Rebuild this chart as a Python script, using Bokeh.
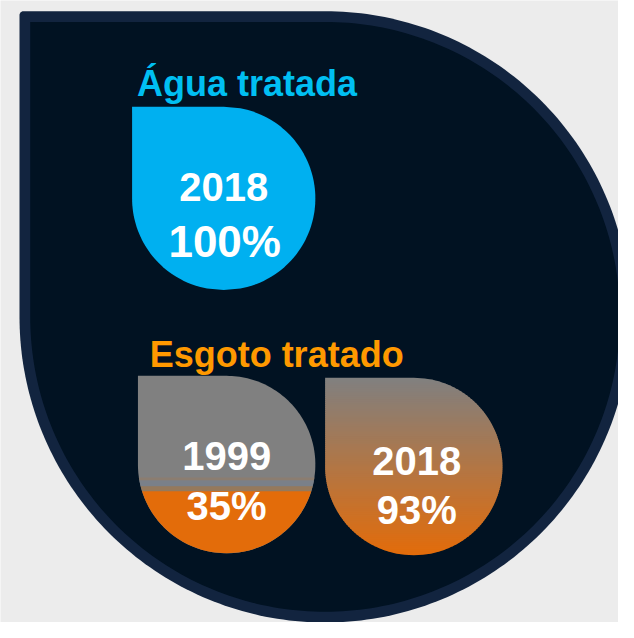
import math
from bokeh.plotting import figure
from bokeh.models import Range1d, ColumnDataSource
from bokeh.core.properties import value
from bokeh.embed import file_html
from bokeh.resources import INLINE

# ---------------- data ----------------
categories = ["Água tratada", "Esgoto tratado"]
agua_years = ["2018"]
agua_pct = [100]
esgoto_years = ["1999", "2018"]
esgoto_pct = [35, 93]

# ---------------- style ----------------
BG = "#ececec"
BORDER = "#12243f"
INNER = "#011222"
CYAN_TITLE = "#00bff2"
CYAN = "#00b0f0"
ORANGE_TITLE = "#ff9900"
GRAY = (128, 128, 128)
ORANGE = (227, 108, 10)
FONT = "Liberation Sans"

W, H = 618, 622
p = figure(width=W, height=H, x_range=Range1d(0, 634), y_range=Range1d(638, 0),
           output_backend="svg", toolbar_location=None,
           x_axis_type=None, y_axis_type=None, min_border=0,
           background_fill_color=BG, border_fill_color=BG, outline_line_color=None)
p.min_border_left = p.min_border_right = p.min_border_top = p.min_border_bottom = 0


def drop_outline(x0, y0, s, n=160, corner=0.0):
    r = s / 2.0
    cx, cy = x0 + r, y0 + r
    xs, ys = [], []
    if corner > 0:
        # small rounded top-left corner
        for i in range(9):
            t = math.radians(180 + 90 * i / 8)
            xs.append(x0 + corner + corner * math.cos(t))
            ys.append(y0 + corner + corner * math.sin(t))
    else:
        xs.append(x0)
        ys.append(y0)
    for i in range(n + 1):
        t = math.radians(-90 + 270 * i / n)
        xs.append(cx + r * math.cos(t))
        ys.append(cy + r * math.sin(t))
    return xs, ys


def extent(x0, y0, s, y):
    r = s / 2.0
    cx, cy = x0 + r, y0 + r
    d = math.sqrt(max(r * r - (y - cy) ** 2, 0.0))
    if y <= cy:
        return x0, cx + d
    return cx - d, cx + d


def drop_band(x0, y0, s, ya, yb, n=8):
    ya = max(ya, y0)
    yb = min(yb, y0 + s)
    ys = [ya + (yb - ya) * i / n for i in range(n + 1)]
    left = [extent(x0, y0, s, y)[0] for y in ys]
    right = [extent(x0, y0, s, y)[1] for y in ys]
    return left + right[::-1], ys + ys[::-1]


def mix(c1, c2, t):
    return "#%02x%02x%02x" % tuple(int(round(a + (b - a) * t)) for a, b in zip(c1, c2))


# big background drop
ox, oy = drop_outline(19.5, 11, 627, n=240, corner=4)
p.patch(ox, oy, fill_color=BORDER, line_color=None)
ix, iy = drop_outline(30.5, 22, 605, n=240)
p.patch(ix, iy, fill_color=INNER, line_color=None)

# titles
p.text(x=[140], y=[85], text=[categories[0]], text_color=CYAN_TITLE,
       text_font=value(FONT), text_font_style="bold", text_font_size="36px",
       text_align="left", text_baseline="alphabetic")
p.text(x=[153], y=[363], text=[categories[1]], text_color=ORANGE_TITLE,
       text_font=value(FONT), text_font_style="bold", text_font_size="36px",
       text_align="left", text_baseline="alphabetic")

# cyan drop (Água tratada)
cx0, cy0, cs = 135, 109, 188
lvl = cy0 + cs - agua_pct[0] / 100.0 * cs
dx, dy = drop_band(cx0, cy0, cs, lvl, cy0 + cs, n=120)
p.patch(dx, dy, fill_color=CYAN, line_color=None)

# drop 1 (Esgoto 1999): gray with orange level
d1x, d1y, d1s = 141, 385, 182
gx, gy = drop_outline(d1x, d1y, d1s)
p.patch(gx, gy, fill_color=mix(GRAY, GRAY, 0), line_color=None)
lvl1 = d1y + d1s - esgoto_pct[0] / 100.0 * d1s
bands = [(-14, -11, "#8b7d70"), (-11, -5, "#7a8089"), (-5, 0.5, "#95795c")]
for a, b, c in bands:
    bx, by = drop_band(d1x, d1y, d1s, lvl1 + a, lvl1 + b, n=2)
    p.patch(bx, by, fill_color=c, line_color=None)
ox1, oy1 = drop_band(d1x, d1y, d1s, lvl1, d1y + d1s, n=80)
p.patch(ox1, oy1, fill_color=mix(ORANGE, ORANGE, 0), line_color=None)

# drop 2 (Esgoto 2018): gradient gray -> orange
d2x, d2y, d2s = 333, 387, 182
nstrip = 91
xs_list, ys_list, cols = [], [], []
for i in range(nstrip):
    ya = d2y + d2s * i / nstrip
    yb = d2y + d2s * (i + 1) / nstrip + 0.8
    bx, by = drop_band(d2x, d2y, d2s, ya, yb, n=4)
    xs_list.append(bx)
    ys_list.append(by)
    t = (i + 0.5) / nstrip
    cols.append(mix(GRAY, ORANGE, t))
src = ColumnDataSource(dict(xs=xs_list, ys=ys_list, c=cols))
p.patches("xs", "ys", source=src, fill_color="c", line_color=None)

# labels
def label(x, y, txt, size):
    p.text(x=[x], y=[y], text=[txt], text_color="white", text_font=value(FONT),
           text_font_style="bold", text_font_size=size,
           text_align="center", text_baseline="alphabetic")

label(229, 191, agua_years[0], "40px")
label(230, 247, f"{agua_pct[0]}%", "44px")
label(232, 467, esgoto_years[0], "40px")
label(232, 519, f"{esgoto_pct[0]}%", "40px")
label(427, 472, esgoto_years[1], "40px")
label(427, 523, f"{esgoto_pct[1]}%", "40px")

open("out.html", "w").write(file_html(p, INLINE))
